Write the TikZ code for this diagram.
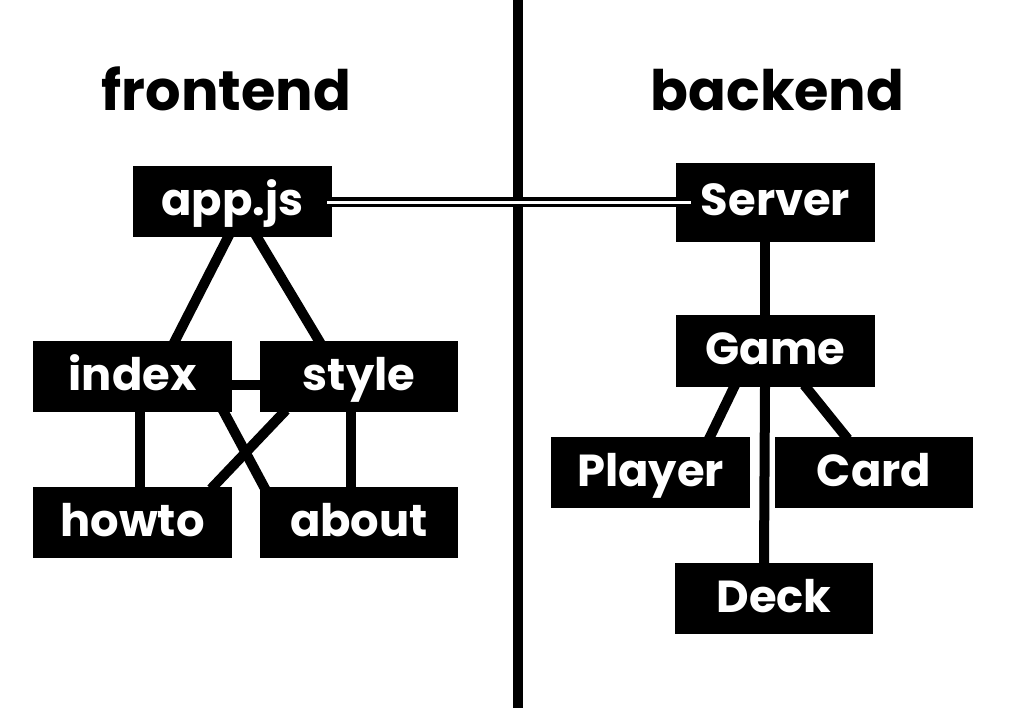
\documentclass[tikz,border=0pt]{standalone}
\usepackage{fontspec}
\setmainfont{Poppins}
\usetikzlibrary{calc,backgrounds}
\tikzset{
  box/.style={fill=black, text=white, inner sep=0pt, minimum width=199bp, minimum height=71bp,
    font=\fontsize{45}{45}\selectfont\bfseries, text height=27bp, text depth=0bp},
  title/.style={font=\fontsize{56}{56}\selectfont\bfseries, anchor=base, inner sep=0pt},
  link/.style={line width=10bp, shorten <=-3bp, shorten >=-3bp},
  bond/.style={line width=3.5bp, double=white, double distance=3bp},
  divider/.style={line width=10bp}
}
\begin{document}
\begin{tikzpicture}[x=1bp,y=-1bp]
\useasboundingbox (0,0) rectangle (1024,708);
% titles
\node[title] (fe) at (226.5,111) {frontend};
\node[title] (be) at (777.5,111) {backend};
% divider
\coordinate (dtop) at (518,-5);
\coordinate (dbot) at (518,713);
\draw[divider] (dtop) -- (dbot);
% frontend nodes
\node[box] (app) at (232.5,201.5) {app.js};
\node[box] (index) at (132.5,376.5) {index};
\node[box, minimum width=198bp] (style) at (359,376.5) {style};
\node[box] (howto) at (132.5,522.5) {howto};
\node[box, minimum width=198bp] (about) at (359,522.5) {about};
% backend nodes
\node[box, minimum height=79bp, text height=25bp] (server) at (775.5,202.5) {Server};
\node[box, minimum height=72bp] (game) at (775.5,351) {Game};
\node[box] (player) at (650.5,472.5) {Player};
\node[box, minimum width=198bp] (card) at (874,472.5) {Card};
\node[box, minimum width=198bp] (deck) at (774,598.5) {Deck};
\begin{scope}[on background layer]
  \draw[link] ([xshift=-4.5bp]app.south) -- ([xshift=42.5bp]index.north);
  \draw[link] ([xshift=24.5bp]app.south) -- ([xshift=-40bp]style.north);
  \draw[link] ([yshift=-8.5bp]index.east) -- ([yshift=-8.5bp]style.west);
  \draw[link] ([xshift=7.5bp]index.south) -- ([xshift=7.5bp]howto.north);
  \draw[link] ([xshift=-8bp]style.south) -- ([xshift=-8bp]about.north);
  \draw[link] ([xshift=91.5bp]index.south) -- ([xshift=-95bp]about.north);
  \draw[link] ([xshift=-75bp]style.south) -- ([xshift=80.5bp]howto.north);
  \draw[link, line width=9.5bp] ([xshift=-10.5bp]server.south) -- ([xshift=-10.5bp]game.north);
  \draw[link] ([xshift=-41.5bp]game.south) -- ([xshift=59.5bp]player.north);
  \draw[link] ([xshift=30.5bp]game.south) -- ([xshift=-28bp]card.north);
  \draw[link] ([xshift=-10.5bp]game.south) -- ([xshift=-10bp]deck.north);
\end{scope}
% double connector
\coordinate (bondL) at ($(app.east)+(-5,0.5)$);
\coordinate (bondR) at (bondL -| {$(server.west)+(15,0)$});
\draw[bond] (bondL) -- (bondR);
\end{tikzpicture}
\end{document}
